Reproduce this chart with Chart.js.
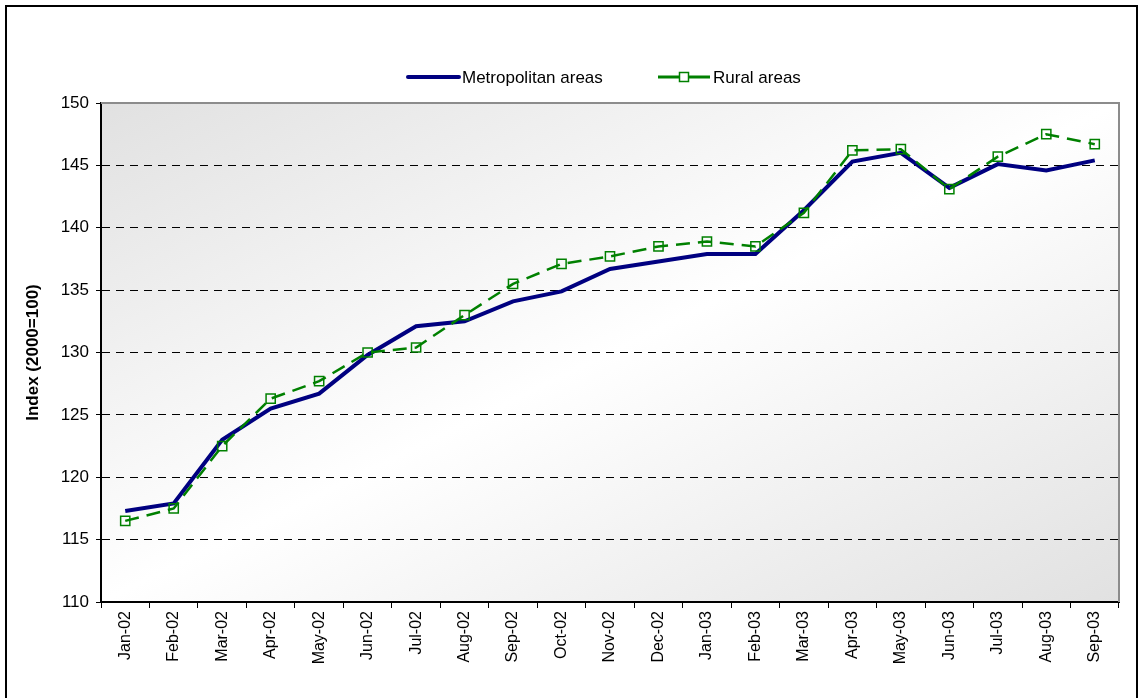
<!DOCTYPE html>
<html>
<head>
<meta charset="utf-8">
<script src="https://cdn.jsdelivr.net/npm/chart.js@4.4.1/dist/chart.umd.min.js"></script>
<style>
    html, body { margin: 0; padding: 0; background: #fff; }
    #wrap { width: 1141px; height: 698px; position: relative; }
</style>
</head>
<body>
<div id="wrap"><canvas id="indexChart" width="1141" height="698"></canvas></div>
<script>
// ------------------------
// Data
// ------------------------
const months = ['Jan-02', 'Feb-02', 'Mar-02', 'Apr-02', 'May-02', 'Jun-02', 'Jul-02', 'Aug-02', 'Sep-02', 'Oct-02', 'Nov-02',
    'Dec-02', 'Jan-03', 'Feb-03', 'Mar-03', 'Apr-03', 'May-03', 'Jun-03', 'Jul-03', 'Aug-03', 'Sep-03'];

const metroValues = [117.3, 117.9, 123.0, 125.5, 126.7, 129.8, 132.1, 132.5, 134.1, 134.9, 136.7,
    137.3, 137.9, 137.9, 141.4, 145.3, 146.0, 143.2, 145.1, 144.6, 145.4];

const ruralValues = [116.5, 117.5, 122.5, 126.3, 127.7, 130.0, 130.4, 133.0, 135.5, 137.1, 137.7,
    138.5, 138.9, 138.5, 141.2, 146.2, 146.3, 143.1, 145.7, 147.5, 146.7];

const yTicks = [110, 115, 120, 125, 130, 135, 140, 145, 150];

const FONT = 'Liberation Sans, Arial, sans-serif';

// ------------------------
// Plot background + borders
// ------------------------
const plotBackground = {
    id: 'plotBackground',
    beforeDraw(chart) {
        const { ctx, chartArea: a } = chart;
        ctx.save();
        // diagonal gradient in unit-square space (grey corners, white middle)
        ctx.translate(a.left, a.top);
        ctx.scale(a.right - a.left, a.bottom - a.top);
        const g = ctx.createLinearGradient(0, 0, 1, 1);
        g.addColorStop(0, '#e1e1e1');
        g.addColorStop(0.5, '#ffffff');
        g.addColorStop(1, '#e1e1e1');
        ctx.fillStyle = g;
        ctx.fillRect(0, 0, 1, 1);
        ctx.restore();
    },
    afterDraw(chart) {
        const { ctx, chartArea: a } = chart;
        ctx.save();
        // grey top/right edges of plot area
        ctx.strokeStyle = '#8c8c8c';
        ctx.lineWidth = 2;
        ctx.beginPath();
        ctx.moveTo(a.left, a.top);
        ctx.lineTo(a.right, a.top);
        ctx.lineTo(a.right, a.bottom);
        ctx.stroke();
        // outer chart frame
        ctx.strokeStyle = '#000';
        ctx.lineWidth = 2;
        ctx.strokeRect(6, 6, 1131, 700);
        ctx.restore();
    }
};

// ------------------------
// Legend (line samples drawn by hand)
// ------------------------
const lineLegend = {
    id: 'lineLegend',
    afterDraw(chart) {
        const ctx = chart.ctx;
        const y = 77;
        ctx.save();
        ctx.font = '17px ' + FONT;
        ctx.fillStyle = '#000';
        ctx.textBaseline = 'middle';

        // Metropolitan
        ctx.strokeStyle = '#000080';
        ctx.lineWidth = 4;
        ctx.lineCap = 'round';
        ctx.beginPath();
        ctx.moveTo(408, y);
        ctx.lineTo(459, y);
        ctx.stroke();
        ctx.fillText(chart.data.datasets[0].label, 462, y + 1);

        // Rural
        ctx.strokeStyle = '#008000';
        ctx.lineWidth = 3;
        ctx.lineCap = 'butt';
        ctx.beginPath();
        ctx.moveTo(658, y);
        ctx.lineTo(710, y);
        ctx.stroke();
        ctx.fillStyle = '#fff';
        ctx.fillRect(679.5, y - 4.5, 9, 9);
        ctx.lineWidth = 1.5;
        ctx.strokeRect(679.5, y - 4.5, 9, 9);
        ctx.fillStyle = '#000';
        ctx.fillText(chart.data.datasets[1].label, 713, y + 1);
        ctx.restore();
    }
};

// ------------------------
// Chart
// ------------------------
new Chart(document.getElementById('indexChart'), {
    type: 'line',
    data: {
        labels: months,
        datasets: [{
            label: 'Metropolitan areas',
            data: metroValues,
            borderColor: '#000080',
            borderWidth: 4,
            pointRadius: 0,
            tension: 0,
            order: 2
        }, {
            label: 'Rural areas',
            data: ruralValues,
            borderColor: '#008000',
            borderWidth: 2.5,
            borderDash: [14, 8],
            pointStyle: 'rect',
            pointRadius: 6.5,
            pointBorderWidth: 1.5,
            pointBorderColor: '#008000',
            pointBackgroundColor: 'rgba(0,0,0,0)',
            tension: 0,
            order: 1
        }]
    },
    options: {
        responsive: false,
        animation: false,
        layout: { padding: { left: 0, top: 103, right: 22, bottom: 0 } },
        plugins: {
            legend: { display: false },
            tooltip: { enabled: false }
        },
        scales: {
            x: {
                offset: true,
                grid: {
                    offset: true,
                    drawOnChartArea: false,
                    drawTicks: true,
                    tickLength: 6,
                    tickColor: '#000',
                    tickWidth: 1
                },
                border: { display: true, color: '#000', width: 2 },
                ticks: {
                    autoSkip: false,
                    minRotation: 90,
                    maxRotation: 90,
                    padding: 3,
                    color: '#000',
                    font: { family: FONT, size: 16 }
                },
                afterFit(scale) { scale.height = 96; }
            },
            y: {
                min: yTicks[0],
                max: yTicks[yTicks.length - 1],
                afterBuildTicks(scale) { scale.ticks = yTicks.map(v => ({ value: v })); },
                grid: {
                    color: ctx => (ctx.tick && (ctx.tick.value === 110 || ctx.tick.value === 150)) ? 'rgba(0,0,0,0)' : '#000',
                    lineWidth: 1,
                    drawTicks: true,
                    tickLength: 5,
                    tickColor: '#000',
                    tickWidth: 1
                },
                border: { display: true, color: '#000', width: 2, dash: [8, 6] },
                ticks: {
                    padding: 7,
                    color: '#000',
                    font: { family: FONT, size: 17 }
                },
                title: {
                    display: true,
                    text: 'Index (2000=100)',
                    color: '#000',
                    font: { family: FONT, size: 17, weight: 'bold' },
                    padding: { top: 23, bottom: 0 }
                },
                afterFit(scale) { scale.width = 101; }
            }
        }
    },
    plugins: [plotBackground, lineLegend]
});
</script>
</body>
</html>
